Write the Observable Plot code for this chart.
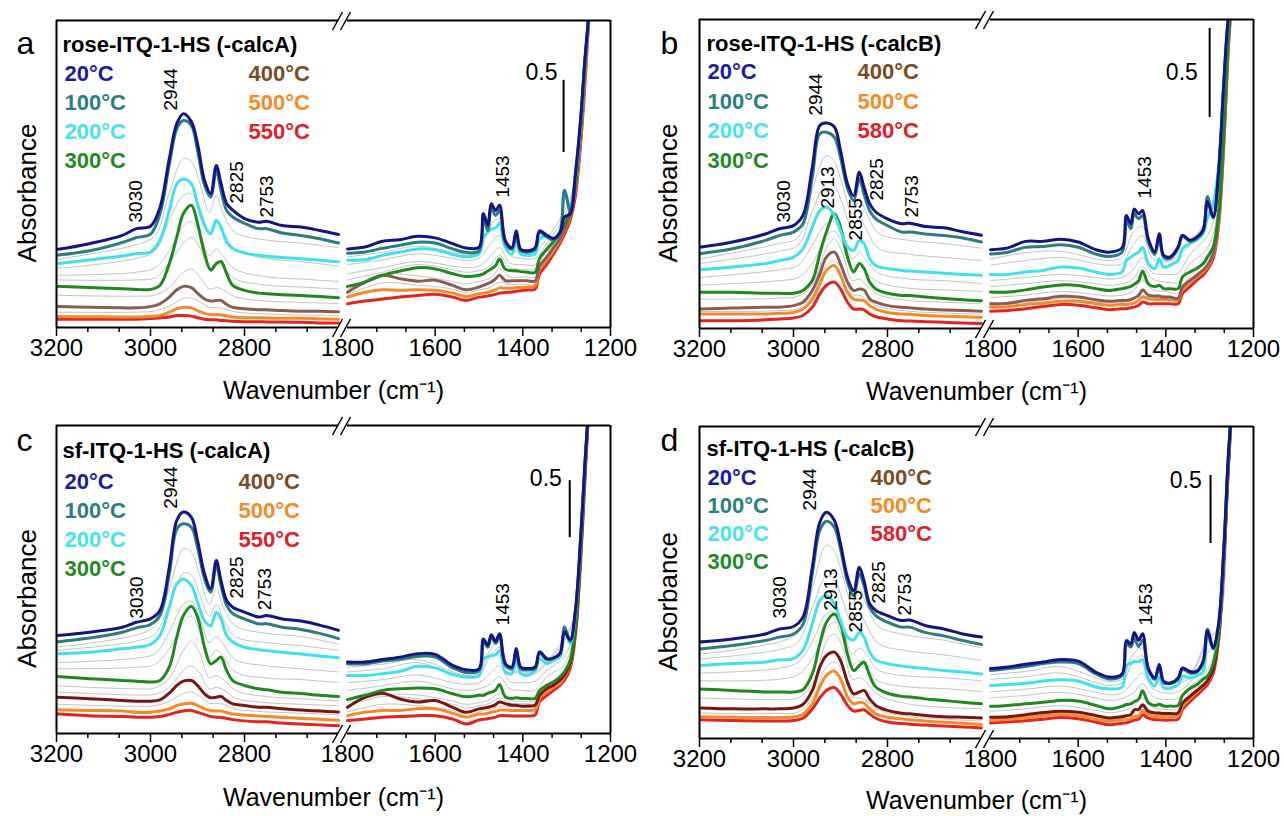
<!DOCTYPE html>
<html><head><meta charset="utf-8">
<script src="https://cdn.jsdelivr.net/npm/d3@7"></script>
<script src="https://cdn.jsdelivr.net/npm/@observablehq/plot@0.6"></script>
<style>
body{margin:0;width:1284px;height:816px;background:#fff;overflow:hidden;font-family:"Liberation Sans",Arial,sans-serif}
.panel{position:absolute;width:642px;height:408px}
</style></head><body>
<div id="pa" class="panel" style="left:0;top:0"></div>
<div id="pb" class="panel" style="left:642px;top:0"></div>
<div id="pc" class="panel" style="left:0;top:408px"></div>
<div id="pd" class="panel" style="left:642px;top:408px"></div>
<script>
// wavenumber grids (cm-1): left segment 3200-2600, right segment 1800-1248
const W = [3200,3130,3060,3030,3000,2980,2960,2944,2930,2913,2900,2885,2872,2860,2850,2838,2825,2800,2770,2753,2720,2680,2640,2600,
           1800,1760,1720,1680,1640,1600,1560,1530,1500,1490,1480,1472,1462,1453,1440,1425,1415,1405,1390,1372,1362,1345,1330,1315,1305,1292,1280,1268,1258,1248];
const GW = [3200,3030,2990,2960,2930,2913,2895,2875,2860,2845,2820,2753,2680,2600,
            1800,1720,1640,1560,1530,1500,1475,1453,1430,1400,1372,1345,1305,1280,1258,1248];
const MAJOR = [3200,3000,2800,1800,1600,1400,1200];
const MAJOR_TICKS = [3200,3000,2800,1600,1400,1200];
const MINOR = [3133.3,3066.7,2933.3,2866.7,2733.3,2666.7,1733.3,1666.7,1533.3,1466.7,1333.3,1266.7];
const TEMPS_A = ["20°C","100°C","200°C","300°C","400°C","500°C","550°C"];
const TEMPS_B = ["20°C","100°C","200°C","300°C","400°C","500°C","580°C"];

// panel a: rose-ITQ-1-HS (-calcA), absorbance in % of frame height
const a20  = [25.4,27.3,30,32.2,33,39,55,66.4,69.6,67,59.9,47.9,43.6,52.8,46.9,40.4,38.2,35.5,34.3,34.6,33.2,32.7,31.6,30.3, 25.6,26.2,28.1,28.6,29.7,29.2,27.3,25.9,26.2,37.1,33.3,40.3,38.1,39.8,28.3,26,31.5,25.5,25,26,31.5,30,29,31,36,37,50,68,88,104];
const a100 = [23.5,25,27.7,29.3,30.4,36.9,53,64.7,67.4,65.8,57.7,46.3,42.5,51.2,44.6,38.1,36,33.9,32.2,32.2,30.8,30,28.9,27.5, 24.2,24.6,25.8,26.8,27.8,27.5,25.6,24.5,24.9,35.5,31.6,38.7,36.5,38.1,27.5,25.5,30.5,25,24.5,25.5,31,29.5,28.5,31,44.6,38,50,68,88,104];
const a200 = [20.8,22,23.3,24.1,24.6,28.4,38.1,46.8,48.4,46.8,40.3,33.2,30.5,34.9,32.7,27.8,25.7,24.3,23.5,23.2,22.8,22.4,21.9,21.4, 21.9,22.1,23.5,24.6,25.6,25.3,23.8,23.1,24,29.4,31,32.1,32.4,34,26.1,23.9,28.3,23.9,23.5,23.9,28.8,29.9,29,31.5,44.6,39,49,67,87,104];
const a300 = [13.4,13,12.6,12.4,12.4,13.7,20.8,29.5,37.1,39.8,33.9,24.1,18.7,20.8,21.5,17.6,13.7,12.1,11.2,11,10.7,10.4,10.1,9.7, 13.4,14.8,17,18.4,19.5,19.1,17.5,16.6,17,17.5,18.4,19.1,20.2,22.3,19,18.5,18.5,18.2,18,17.9,22.5,25.5,28,31,33.5,38,47,65,86,104];
const a400 = [6.8,6.6,6.4,6.4,6.8,7.7,9.9,12.3,13.4,13,11.2,9.3,8.6,8.8,8.8,7.5,6.6,6.1,5.8,5.8,5.5,5.3,5.3,5.1, 11.5,14.8,17,15.9,15.1,15.4,13.7,12.3,13.2,13.7,14.3,14.8,15.9,17,15.3,15.2,15.2,15.2,15.2,15.2,20,23,26,29,32,37,46,64,85,104];
const a500 = [3.6,3.5,3.4,3.4,3.6,3.9,5,6.1,6.6,6.4,5.5,4.6,4.2,4.2,4.1,3.8,3.4,3.2,3.2,3.1,3,3,2.8,2.7, 9.9,11.5,12.3,12.1,12.3,12.1,11.2,10.1,11,11.2,11.5,11.8,12.3,12.9,12.8,12.8,13,13,13.2,13.6,19,22,25,28.5,31.5,36.5,45,62,83,104];
const a550 = [2.7,2.7,2.7,2.7,2.9,3.1,3.4,3.9,3.9,3.7,3.2,2.7,2.5,2.5,2.3,2.2,2,1.9,1.9,1.8,1.8,1.7,1.5,1.5, 7.7,8.6,9.3,9.9,10.4,10.8,9.9,8.8,9.9,10,10.3,10.5,10.8,11.2,11.4,11.6,11.8,12,12.2,12.5,17.4,20.6,24,27.5,30.4,35,43,60,80,104];
const aG1 = [22.2,27,30,44,55,54,47,37.5,43,37,31,28.5,27.5,26, 23,24.5,26.5,24.5,23.8,24.5,33,35.5,25.5,24.5,24.5,29,38,49,87,104];
const aG2 = [19.2,22.5,25,35,43,43.6,39,31,34,31,25.5,22.5,21.5,20, 20.5,22,24,22.5,21.8,22.5,27,30,23.5,22.5,22.5,27.5,36,48,86.5,104];
const aG3 = [17,18,19.5,25,33,34.5,30.5,23.5,25.5,23,19,16.5,15.8,15, 17.5,19.5,21.5,20,19.5,20,23,26,21,20.5,20.5,26.5,34,47.5,86,104];
const aG4 = [15.5,15.5,16.2,21,27.5,29.3,26,19.5,21,19.5,15.8,13.8,13.2,12.5, 15.5,18,20.5,18.8,18,18.5,20,23.5,19.5,19,19,25.5,33,47,85.5,104];
const aG5 = [10.5,10.2,10.6,13,18,19,16.5,12.5,13,12.3,10,8.6,8.2,7.8, 12.5,17.3,16.8,15,14.2,15,16,19,16.5,16.5,16.5,24,32.5,46.5,85,104];
const aG6 = [5,5,5.4,7,9.5,9.6,8.3,6.6,6.5,6.2,5.1,4.4,4.1,3.9, 10.7,14.5,13.8,12.5,11.3,12.2,13,14.8,14,14,14.3,22,31.8,45.5,84,104];

// panel b: rose-ITQ-1-HS (-calcB)
const b20  = [26.3,28,30.6,32.3,33.3,36.6,52.2,65.7,66.5,65.2,57.6,46.8,43,50.6,45.8,40.4,37.7,35.5,33.9,34.1,33,32.6,31.3,30.2, 25.5,26.1,28.2,28.2,28.9,28,25.5,24.7,26.1,36.6,33.9,38.7,37.1,38.2,29,24.8,30.7,23.7,23.2,26.4,30.2,28.6,29.5,31.8,41,36,50,79,100,110];
const b100 = [24.2,25.8,28.5,30.1,31.2,33.9,49,63,63.5,61.9,55.4,45.2,41.4,48.4,43.5,38.1,35.5,33.3,31.2,31.2,30.6,30.1,29.3,28, 24.1,24.7,26.3,26.5,27.1,26.3,24.1,23.3,24.7,35,32.3,37.1,35.5,36.6,28,24,30,23,22.7,26,29.8,28.2,29,31.5,42.6,36,50,78,99,110];
const b200 = [19,19.9,21,22,23.1,25.8,32.8,38.2,39.3,36.6,31.7,26.4,25.3,28.5,27.5,22.6,20.4,19.4,18.8,18.6,18.3,17.9,17.5,17.2, 17.5,17.5,18.3,18.8,19.9,19.6,18.3,17.5,18.3,22,23.1,23.9,24.7,26.3,21,19.4,22.6,19.9,20.5,22,25.9,27.5,28.6,30.7,36,40.4,52,79,99.7,110];
const b300 = [11.7,11.7,11.4,11.4,11.4,12.3,15.5,24.2,31.2,37.1,32.8,23.1,18.3,21,19.5,15,12.8,11.4,10.7,10.7,10.2,9.7,9.3,9, 11.8,11.8,12.5,13.4,14.1,13.9,12.9,12.3,12.9,13.2,13.6,14.3,15.5,18.6,14.5,13.5,14,12.9,12.9,12.9,16.7,18.3,19.4,21,23.2,26.4,37.2,63,93,110];
const b400 = [6.3,6.6,6.9,6.9,7.4,8.5,12.3,17.7,23.1,24.7,20.9,15,12.3,12.8,12.5,9.6,8.5,7.4,6.9,6.7,6.3,6,5.8,5.6, 8,8.2,9.1,9.6,10.4,10.2,9.3,8.8,9.1,9.1,9.4,9.8,10.7,12.5,10.8,10.5,10.5,10.2,10.2,9.7,13.5,15.6,17.2,18.9,20.5,24.2,35,61,91,110];
const b500 = [4.7,4.7,4.7,4.9,5.2,6.3,9.5,14.4,18.8,20.4,17.2,11.7,9.5,9.2,9,7.4,6.3,5.2,4.7,4.6,4.2,4,3.8,3.6, 6.9,7,7.8,8.2,8.8,8.8,8,7.5,7.8,7.8,8,8.3,9.1,10.3,9.7,9.4,9.4,9.4,9.4,9.2,12.6,14.8,16.7,18.3,19.9,23.7,34,60,90,110];
const b580 = [2.5,2.5,2.8,3.1,3.4,4.2,6.9,11.2,14,15,12.8,8.5,6.3,6.3,6,4.7,3.8,3.1,2.5,2.4,2.2,2,1.8,1.6, 5.6,5.8,6.4,7.1,7.8,7.5,6.7,6.1,6.4,6.4,6.7,6.9,7.5,8.6,8,8,8,8,8,8,11.3,13.5,15.6,17.2,19.1,22.6,32.9,58.7,89,110];
const bG1 = [22.5,27.5,29.5,45,56,54,46,37,42,37.5,31,28.5,27.5,26, 22.5,24.5,25,22.5,22,23,31,33,24,22,24.5,27.5,36,45,96,110];
const bG2 = [21,25,27,38,47,46,40,32,36,32,26,24,23,22, 20.5,22,23,21,20.5,21,27,30,22.5,21.5,23.5,27,35,45,96,110];
const bG3 = [16.5,19,20.5,27,34,34.5,29,22.5,24.5,22,18,16,15.5,14.5, 15.5,16.5,17.5,16.5,16,16.5,19,23,18,17.5,18,24,30,42,95,110];
const bG4 = [14,15.5,16.5,21,30,31.5,27,19,20,18,15,13,12.5,12, 13.5,14.5,15.5,14.5,14,14.5,16,20,16,15,15,21,26,40,94,110];
const bG5 = [9.5,9.8,10.5,14,26,29,24,15.5,16,14,11,9,8.5,8, 10,10.8,12,11,10.5,10.8,12,15.5,12.5,12,11.5,17,22,37,92,110];
const bG6 = [5.5,5.8,6.5,10.5,20.5,22,18.5,11,10.8,9.5,7.2,5.6,5,4.6, 7.4,8.4,9.6,8.6,8.2,8.4,9.2,11.8,10.2,9.8,9.5,15,20.2,34.5,90,110];

// panel c: sf-ITQ-1-HS (-calcA)
const c20  = [31.8,32.9,34.5,36.1,37.2,39.9,54,69.2,71.9,70.2,62.7,51.8,47,56.2,49.6,43.2,41,39.4,37.8,38.3,37.2,36.5,35.2,33.5, 23.2,23.2,24,24.8,25.9,25.7,22.1,20.7,21,30.7,28.6,32.1,29.9,32.4,22.7,21.6,27.6,21.6,21.1,21.6,26.5,24.3,24.5,26,33,30.3,40,63.8,88.6,110];
const c100 = [29.7,31,32.9,34.3,35.4,38.3,51.8,66.4,68.1,67,60.5,50.2,45.9,54.5,48,41.6,38.9,37.2,35.6,35.6,34.5,33.8,32.5,30.8, 22.6,22.6,23.5,24.1,25,24.8,21.3,19.8,20.4,29.9,28,31.3,29.3,31.8,22.2,21,27,21,20.6,21,26,24,24.5,26,34.6,30,40,63.5,88,110];
const c200 = [25.9,26.4,27.5,28,28.9,31.8,41,48.6,50.2,48,42.6,36.6,35,39.4,37.2,31.8,29.7,28,27.2,26.9,26.4,25.8,25.2,24.6, 18.8,18.8,19.4,20.2,21.8,21.3,19.1,18.3,18.8,24.2,24.9,25.3,25.6,27,20,19.5,24.3,19.5,18.9,20.5,24.3,22.7,23.8,24.9,33.5,29.2,39,63.2,88,110];
const c300 = [18.5,17.8,17.2,17,16.7,17.2,21.6,31.3,38.3,41.2,37.8,28,22.6,23.7,24.8,20.4,17.2,15.6,14.5,14.2,13.4,13,12.4,12, 11,12.4,14,14.5,14.8,14.5,12.9,11.9,12.4,12.4,13.1,13.4,14.2,15.9,11.9,11.4,11.6,11.4,11.4,11.4,14,15.7,16.8,18.4,20,23.8,34.6,59.5,86.5,110];
const c400 = [11.8,11.3,10.7,10.5,10.5,10.9,13.1,15.6,17,17.2,15.6,12.9,11.6,11.8,12,10.7,9.6,9.1,8.5,8.5,8,7.6,7.3,7, 8.5,11.7,13.1,11.2,10.2,10.7,8.5,6.9,8,8.2,8.5,8.8,9.4,10.2,9.7,9.2,9.2,8.9,8.9,9.2,12.4,14.6,15.7,17.3,18.9,22.7,33.5,58.4,85.4,110];
const c500 = [7.7,7.5,7.3,6.9,6.9,7.3,8,9.1,9.6,9.8,9.1,8,7.5,7.3,7.3,6.8,6.3,6,5.7,5.5,5.2,4.9,4.6,4.3, 5.8,6.9,7.5,7.5,8,8,6.6,5.3,6.3,6.3,6.6,6.9,7.2,7.6,7.6,7.5,7.5,7.5,7.5,7.8,11.4,13.5,14.9,16.4,18.4,22.2,33,57.3,84.3,110];
const c550 = [6.4,5.8,5.5,5.3,5.3,5.5,6.2,6.9,7.3,7.5,6.9,6.2,5.5,5.3,5.2,4.9,4.5,4.1,3.8,3.8,3.4,3.1,2.8,2.5, 4.2,4.7,5.3,5.5,5.8,5.8,4.7,3.1,4.4,4.6,4.8,5,5.3,5.8,5.8,5.7,5.7,5.7,5.7,6,10.3,12.4,14,15.7,17.3,21.1,31.9,56.2,83.2,110];
const cG1 = [28,32,35,47,60,59,51,42,47,41,35,32.5,31.5,29, 21.5,22.5,24,20,19,19.5,27,29.5,21,20,20,23.5,31,39.5,87.5,110];
const cG2 = [27,30,32.5,42,52,51.5,45,38,42,37,31.5,29.5,28.5,27, 20,21,23,19.5,18.8,19,25,28,20.5,19.5,19.5,23,30,39.3,87.5,110];
const cG3 = [23,24.5,26,33,42,43,37.5,29.5,31.5,29,24,22,21,20, 16.5,17.5,19,16.5,16,16.5,19.5,22,17,16.5,17,20.5,25,37,87,110];
const cG4 = [21,21.5,22.5,27.5,36,38,33,25,27,25,20,18,17.5,16.5, 14,15.5,17,14.5,14,14.5,16,18.5,14.5,14,14,18.5,22.5,36,86.5,110];
const cG5 = [15.5,14.5,14.8,18,27,30,26,18,18.8,17.5,14,12,11.3,10.5, 10,12.5,12.5,10.5,9.5,10,11,13,10.8,10.5,10.5,15,20,34,86,110];
const cG6 = [13.5,12.5,12.8,15,20.5,22,19.5,14.5,15,14.2,11.5,10,9.5,9, 9,12,11.3,9.5,8.2,9,9.8,11.5,10,9.8,9.8,14.5,19.8,33.8,85.5,110];
const cG7 = [9.5,8.8,9,10.5,13,13.5,12,9.8,9.8,9.5,8,7,6.6,6, 7,9.5,9,7.5,6,7,7.8,8.8,8.8,8.5,8.6,14,19.5,33.5,85,110];

// panel d: sf-ITQ-1-HS (-calcB)
const d20  = [30.9,31.9,33.5,35.1,35.9,38.9,54.9,69.3,72.5,69.9,62.4,51.7,47.4,54.9,50.6,43.2,41,39.4,37.8,38,36.2,35.1,33.5,32.5, 22.4,22.9,23.8,24.5,25.3,24.8,21.3,19.7,20.7,31.4,30.3,34,31.5,33.6,22.5,19.4,23.7,18.3,17.8,19.4,22.6,21.5,21.5,24.7,34.5,29,36.3,60,89,110];
const d100 = [28.7,29.8,31.4,32.5,33.5,36.5,52.8,66.7,69.6,67.7,60.8,50.1,45.8,52.8,49,42.1,39.4,37.3,35.7,35.7,34,32.9,31.4,30.1, 21.8,22.4,23.1,24,24.5,24,20.7,19.1,20.2,30.3,29.3,32,29.5,31.5,22,19,23.2,18,17.6,19,22.2,21,21.2,24.4,35,29,36,59.8,88.5,110];
const d200 = [23.4,24,24.5,25.2,25.6,28.2,36.8,44.2,45.8,43.2,37.8,32.5,31.6,34,32.5,27.7,25.2,24,23.2,22.9,22.4,21.8,21.3,20.7, 17,17.3,17.7,18.4,18.8,18.4,16.5,15.9,16.5,23.4,24.1,24.6,24.6,25.2,19.3,16.8,19.8,16.3,16,17.3,20,19.4,20,21.5,33,28.6,35.5,59.5,88.5,110];
const d300 = [15.9,15.4,14.9,14.9,14.9,15.6,20.7,30.3,37.2,39.9,36.7,27,21.8,23.4,24.5,20.2,16.5,14.5,13.5,13.3,12.7,12.2,11.6,11.1, 10.3,10.6,11.1,11.6,12.2,12,10.6,9.5,10.3,10.9,11.1,11.8,12.6,15.3,11.5,10.6,11,10.4,10.4,10.6,13.8,16,17.2,19,20,24,33,57.8,87.3,110];
const d400 = [9.8,9.5,9.5,9.5,9.8,10.9,15.4,22.9,26.6,27.7,25,18,14.3,14.9,15.4,12.7,10.6,9,8.1,7.9,7.4,7,6.8,6.6, 6.8,7,7.6,8.3,8.7,8.4,7.4,6.6,7,7.3,7.6,9.2,9.3,10.8,8.7,8.2,8.2,8,8,8.2,11.3,13.5,15.3,17,18.5,22,32,56.5,86,110];
const d500 = [7,6.8,6.7,6.7,6.9,7.8,11.1,16.5,20.2,21.6,19.1,13.3,11.1,11.6,11.3,9.5,7.9,6.8,6.3,6,5.6,5.2,4.9,4.5, 5.8,6.2,6.6,7.3,7.7,7.3,6.2,5.6,6,6,6.4,7,7.3,9,7.6,7.1,7.1,7,7,7.3,10.3,12.8,14.8,16.8,18.2,21.8,31.5,56,85.5,110];
const d580 = [6,5.8,5.6,5.6,5.8,6.5,9.5,13,15.4,16.3,14.3,10.6,8.8,9,9.2,7.9,6.5,5.3,4.8,4.6,4.3,4,3.7,3.4, 5,5.3,5.7,6.2,6.7,6.3,5.3,4.4,4.9,5,5.5,5.9,6.2,7.6,6.5,6,6,5.9,5.9,6.2,9.3,11.8,13.8,15.8,17.3,20.8,30.8,55.3,84.8,110];
const dG1 = [27,31,34,48,62,60,52,43,48,43,36,33,31.5,29, 20.5,21.5,23,19.5,18.3,19,27,29,20,17.3,18.3,20.3,32,35.8,88.5,110];
const dG2 = [25.5,28.5,31,42,52,51,44,37,40.5,36.5,30.5,28,26.8,25, 19,19.8,21,18,17,17.8,24.5,26.5,19,16.5,17.5,19.6,31,35.6,88.5,110];
const dG3 = [21,22.5,24.5,31,40,40.5,35,27,29,27,22,20,19.5,18.5, 15,15.8,16.8,14.8,14,14.5,18,21,16,14.5,15,18,27,35,88,110];
const dG4 = [18.5,19,20.5,25.5,35,37.5,32,23.5,25,23,18.5,16.5,16,15, 13,13.8,14.8,13,12.2,12.8,14.5,17.5,13.5,12.5,12.8,16.5,22,34,87.8,110];
const dG5 = [13,12.5,13,17.5,31,33.5,29,19,19.5,18,14,11,10,9.5, 8.7,9.5,10.5,9,8.3,8.8,10.3,13,10,9.3,9.5,14.8,19.3,32.8,87,110];
const dG6 = [8.2,8,8.5,12.8,23,24.5,21.5,13.5,13,12,9.2,7,6.2,5.6, 6.3,7.1,8.2,6.8,6.1,6.5,8,10,8.2,7.5,7.8,13,18.3,32,86,110];

// peak annotations: [label, wavenumber position, height]
const aPeaks = [["2944",2957,70.7],["3030",3030,34.2],["2825",2817,40.4],["2753",2753,35.8],["1453",1446,42.3]];
const bPeaks = [["2944",2953,68.9],["3030",3021,34.3],["2913",2926,38.8],["2855",2868,28.5],["2825",2823,41.4],["2753",2749,35.9],["1453",1448,42.1]];
const cPeaks = [["2944",2957,73],["3030",3028,37.3],["2825",2817,43.8],["2753",2757,40],["1453",1446,35.1]];
const dPeaks = [["2944",2966,73.1],["3030",3028,38.5],["2913",2921,41],["2855",2868,34],["2825",2819,43.3],["2753",2762,39.4],["1453",1446,36.2]];

const LINE_AB = ["#141485","#2a7d80","#3fe2ec","#1e8a1e","#8b5b55","#f28c28","#e42420"];
const LINE_CD = ["#141485","#2a7d80","#3fe2ec","#1e8a1e","#7a1515","#f28c28","#e42420"];
const LEGEND = ["#1b1ba6","#28807f","#46e4ec","#1f8b1f","#7b4b22","#f28c25","#e0202b"];
const FONT = '"Liberation Sans", Arial, Helvetica, sans-serif';

const panels = [
  {el:"pa", letter:"a", title:"rose-ITQ-1-HS (-calcA)", temps:TEMPS_A, series:[a20,a100,a200,a300,a400,a500,a550], grays:[aG1,aG2,aG3,aG4,aG5,aG6], colors:LINE_AB, peaks:aPeaks,
   bar:{tw:1321, ty:80.5, w:1307, y1:57, y2:80.5}, m:[56,32,20,81], xr:[56,338,347,610],
   lay:{letter:[-40,33], title:[6,31], c1:8, c2:192, rows:[60,89,118,147], ylab:[-29,19], xlab:63}},
  {el:"pb", letter:"b", title:"rose-ITQ-1-HS (-calcB)", temps:TEMPS_B, series:[b20,b100,b200,b300,b400,b500,b580], grays:[bG1,bG2,bG3,bG4,bG5,bG6], colors:LINE_AB, peaks:bPeaks,
   bar:{tw:1327, ty:80.3, w:1300, y1:68.3, y2:97.1}, m:[57,31,19,80], xr:[57,339,348,611],
   lay:{letter:[-39,34], title:[7,31], c1:8, c2:158, rows:[59,89,118,148], ylab:[-31,19], xlab:63}},
  {el:"pc", letter:"c", title:"sf-ITQ-1-HS (-calcA)", temps:TEMPS_A, series:[c20,c100,c200,c300,c400,c500,c550], grays:[cG1,cG2,cG3,cG4,cG5,cG6,cG7], colors:LINE_CD, peaks:cPeaks,
   bar:{tw:1311, ty:80.5, w:1293, y1:63.6, y2:82.1}, m:[56,32,17,83], xr:[56,338,347,610],
   lay:{letter:[-40,25], title:[6,32], c1:8, c2:182, rows:[63,92,121,150], ylab:[-29,19], xlab:64}},
  {el:"pd", letter:"d", title:"sf-ITQ-1-HS (-calcB)", temps:TEMPS_B, series:[d20,d100,d200,d300,d400,d500,d580], grays:[dG1,dG2,dG3,dG4,dG5,dG6], colors:LINE_CD, peaks:dPeaks,
   bar:{tw:1318, ty:80.4, w:1298, y1:62.5, y2:84.3}, m:[57,31,18,78], xr:[57,339,348,611],
   lay:{letter:[-39,24], title:[7,29], c1:8, c2:171, rows:[58,86,114,142], ylab:[-31,19], xlab:62}}
];

function breakMarks(index, scales, values, dims) {
  const xm = (scales.x(2600) + scales.x(1800)) / 2;
  const g = d3.create("svg:g").attr("stroke", "black").attr("stroke-width", 1.5).attr("fill", "none");
  for (const y of [dims.marginTop, dims.height - dims.marginBottom]) {
    for (const o of [-5, 3]) {
      g.append("line").attr("x1", xm + o - 5).attr("y1", y + 10).attr("x2", xm + o + 5).attr("y2", y - 8);
    }
  }
  return g.node();
}

function draw(p) {
  const rows = [];
  p.series.forEach((vals, i) => vals.forEach((v, j) => rows.push({s: i, w: W[j], v, seg: W[j] > 2000 ? 0 : 1})));
  const grows = [];
  p.grays.forEach((vals, i) => vals.forEach((v, j) => grows.push({s: i, w: GW[j], v, seg: GW[j] > 2000 ? 0 : 1})));
  const L = p.lay;
  const marks = [
    Plot.line(grows, {x: "w", y: "v", z: d => d.s * 2 + d.seg, stroke: "#c3c3c3", strokeWidth: 1, curve: "catmull-rom", clip: true})
  ];
  for (let i = 6; i >= 0; i--) {
    marks.push(Plot.line(rows.filter(d => d.s === i), {x: "w", y: "v", z: "seg", stroke: p.colors[i], strokeWidth: 3, curve: "catmull-rom", clip: true}));
  }
  marks.push(
    Plot.ruleX([3200, 1200], {stroke: "black", strokeWidth: 2}),
    Plot.ruleY([0, 100], {x1: () => 3200, x2: () => 2600, stroke: "black", strokeWidth: 2}),
    Plot.ruleY([0, 100], {x1: () => 1800, x2: () => 1200, stroke: "black", strokeWidth: 2}),
    breakMarks,
    Plot.axisX(MAJOR, {tickSize: 0, tickPadding: 11, fontSize: 24, tickFormat: "d", label: null}),
    Plot.axisX(MAJOR_TICKS, {tickSize: 9, tickFormat: () => "", strokeWidth: 1.5, label: null}),
    Plot.axisX(MINOR, {tickSize: 5, tickFormat: () => "", strokeWidth: 1.5, label: null}),
    Plot.text([p.letter], {frameAnchor: "top-left", dx: L.letter[0], dy: L.letter[1], textAnchor: "start", lineAnchor: "bottom", fontSize: 32}),
    Plot.text([p.title], {frameAnchor: "top-left", dx: L.title[0], dy: L.title[1], textAnchor: "start", lineAnchor: "bottom", fontSize: 22, fontWeight: "bold"}),
    ...p.temps.map((t, i) => Plot.text([t], {frameAnchor: "top-left", dx: i < 4 ? L.c1 : L.c2, dy: L.rows[i < 4 ? i : i - 4], textAnchor: "start", lineAnchor: "bottom", fontSize: 22, fontWeight: "bold", fill: LEGEND[i]})),
    Plot.text(p.peaks, {x: d => d[1], y: d => d[2], text: d => d[0], rotate: -90, textAnchor: "start", lineAnchor: "middle", fontSize: 19}),
    Plot.text([p.bar], {x: d => d.tw, y: d => d.ty, text: () => "0.5", textAnchor: "end", lineAnchor: "bottom", fontSize: 23}),
    Plot.ruleX([p.bar], {x: d => d.w, y1: d => d.y1, y2: d => d.y2, stroke: "black", strokeWidth: 2}),
    Plot.text(["Wavenumber (cm⁻¹)"], {frameAnchor: "bottom", dy: L.xlab, textAnchor: "middle", lineAnchor: "middle", fontSize: 25}),
    Plot.text(["Absorbance"], {frameAnchor: "left", dx: L.ylab[0], dy: L.ylab[1], rotate: -90, textAnchor: "middle", lineAnchor: "middle", fontSize: 26})
  );
  const chart = Plot.plot({
    width: 642, height: 408,
    marginLeft: p.m[0], marginRight: p.m[1], marginTop: p.m[2], marginBottom: p.m[3],
    x: {type: "linear", domain: [3200, 2600, 1800, 1200], range: p.xr, axis: null},
    y: {domain: [0, 100], axis: null},
    style: {fontFamily: FONT, color: "black", background: "transparent", overflow: "visible"},
    marks
  });
  document.getElementById(p.el).appendChild(chart);
}

panels.forEach(draw);
</script>
</body></html>
